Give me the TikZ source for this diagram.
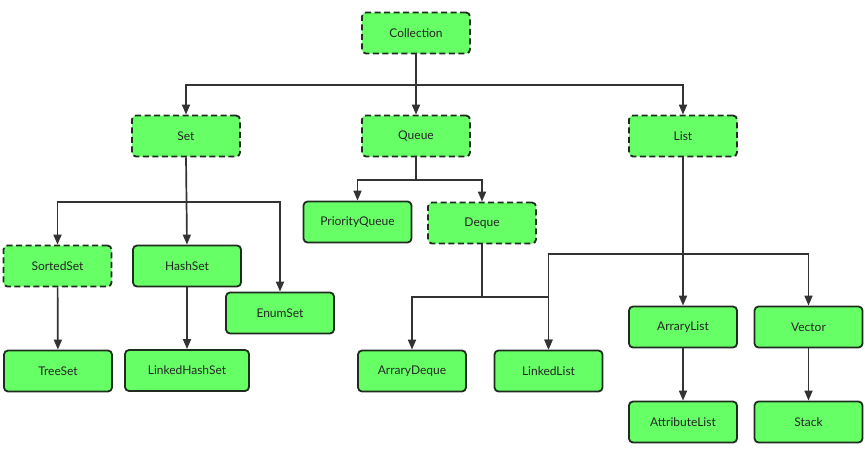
\documentclass[tikz,border=0pt]{standalone}
\usepackage{fontspec}
\setmainfont{Lato}
\usetikzlibrary{arrows.meta}
\definecolor{boxfill}{RGB}{102,255,102}
\definecolor{boxline}{RGB}{30,45,30}
\definecolor{conn}{RGB}{51,51,51}
\begin{document}
\begin{tikzpicture}[x=1pt,y=-1pt,
  cbox/.style={draw=boxline, fill=boxfill, line width=1.8pt, rounded corners=4pt,
     minimum width=108pt, minimum height=41pt, inner sep=0pt, font=\fontsize{12}{14}\selectfont, text=black!85},
  abox/.style={cbox, dash pattern=on 6pt off 3.5pt},
  conline/.style={draw=conn, line width=1.7pt},
  arr/.style={conline, -{Triangle[length=10pt,width=8pt]}}]
\useasboundingbox (0,0) rectangle (865,450);

\node[abox] (coll) at (416,33) {Collection};
\node[abox] (set) at (186,136) {Set};
\node[abox] (queue) at (416,136) {Queue};
\node[abox] (list) at (683,136) {List};
\node[abox] (sorted) at (57.5,266) {SortedSet};
\node[cbox] (hash) at (187,266) {HashSet};
\node[cbox] (enum) at (280,313) {EnumSet};
\node[cbox] (tree) at (58,371) {TreeSet};
\node[cbox, minimum width=124pt] (lhs) at (187,370.5) {LinkedHashSet};
\node[cbox] (pq) at (357.5,222) {PriorityQueue};
\node[abox] (deque) at (482,223) {Deque};
\node[cbox] (ad) at (412,371) {ArraryDeque};
\node[cbox] (ll) at (548.5,371) {LinkedList};
\node[cbox] (al) at (683,327) {ArraryList};
\node[cbox] (vec) at (808.5,327) {Vector};
\node[cbox] (attr) at (683,422) {AttributeList};
\node[cbox] (stack) at (808.5,422) {Stack};

% Collection
\coordinate (jc) at (416,85);
\draw[conline] (coll.south) -- (jc);
\draw[arr] (jc) -| (set.north);
\draw[arr] (jc) -- (queue.north);
\draw[arr] (jc) -| (list.north);

% Set
\coordinate (js) at (186,202);
\draw[arr] (set.south) -- (hash.north);
\draw[arr] (js) -| (sorted.north);
\draw[arr] (js) -| (enum.north);
\draw[arr] (sorted) -- (tree);
\draw[arr] (hash) -- (lhs);

% Queue
\coordinate (jq) at (416,180);
\draw[conline] (queue.south) -- (jq);
\draw[arr] (jq) -| (pq.north);
\draw[arr] (jq) -| (deque.north);

% Deque
\coordinate (jd) at (482,297);
\draw[conline] (deque.south) -- (jd);
\draw[arr] (jd) -| (ad.north);
\draw[arr] (jd) -| (ll.north);

% List
\coordinate (jl) at (683,254);
\draw[arr] (list.south) -- (al.north);
\draw[arr] (jl) -| (ll.north);
\draw[arr] (jl) -| (vec.north);
\draw[arr] (al) -- (attr);
\draw[arr] (vec) -- (stack);
\end{tikzpicture}
\end{document}
